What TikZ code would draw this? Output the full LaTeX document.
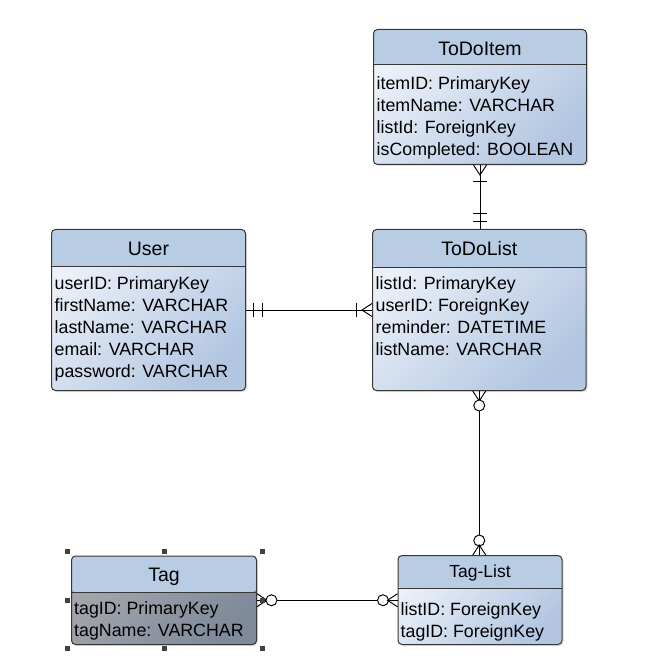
\documentclass[tikz,border=0pt]{standalone}
\usepackage{fontspec}
\setmainfont{Liberation Sans}
\usetikzlibrary{calc, positioning, decorations.markings, shadows}
\definecolor{headblue}{RGB}{184,204,228}
\definecolor{bodylight}{RGB}{236,241,249}
\definecolor{bodyblue}{RGB}{178,198,225}
\definecolor{taglight}{RGB}{166,167,172}
\definecolor{tagdark}{RGB}{126,137,154}
\definecolor{framegray}{RGB}{55,55,55}

\begin{document}
\begin{tikzpicture}[x=1pt, y=1pt,
    entity/.style={draw=framegray, line width=1pt, rounded corners=4pt, anchor=north west, inner sep=0pt,
        top color=bodylight, bottom color=bodyblue, shading angle=45,
        drop shadow={shadow xshift=1.5pt, shadow yshift=-1.5pt, opacity=0.25},
        path picture={
            \fill[headblue] (path picture bounding box.north west) rectangle ([yshift=-#1pt]path picture bounding box.north east);
            \draw[framegray, line width=1pt] ([yshift=-#1pt]path picture bounding box.north west) -- ([yshift=-#1pt]path picture bounding box.north east);
        }},
    tagentity/.style={entity=#1, top color=taglight, bottom color=tagdark, shading angle=45},
    entityname/.style={font=\fontsize{19.5}{23}\selectfont, text height=14pt, text depth=0pt, inner sep=0pt},
    fieldlist/.style={font=\fontsize{17.8}{22}\selectfont, align=left, inner sep=0pt, anchor=north west},
    conn/.style={line width=0.95pt},
    tipline/.style={line width=0.95pt},
    handle/.style={fill=black!75},
    onlyone start/.style={postaction={decorate, decoration={markings,
        mark=at position 7.5pt with {\draw[tipline] (0pt,-7pt) -- (0pt,7pt);},
        mark=at position 16pt with {\draw[tipline] (0pt,-7pt) -- (0pt,7pt);}}}},
    onlyone end/.style={postaction={decorate, decoration={markings,
        mark=at position -16pt with {\draw[tipline] (0pt,-7pt) -- (0pt,7pt);},
        mark=at position -7.5pt with {\draw[tipline] (0pt,-7pt) -- (0pt,7pt);}}}},
    onemany start/.style={postaction={decorate, decoration={markings,
        mark=at position 10pt with {\draw[tipline] (-10pt,-6.5pt) -- (0pt,0pt) -- (-10pt,6.5pt);},
        mark=at position 16pt with {\draw[tipline] (0pt,-7pt) -- (0pt,7pt);}}}},
    onemany end/.style={postaction={decorate, decoration={markings,
        mark=at position -16pt with {\draw[tipline] (0pt,-7pt) -- (0pt,7pt);},
        mark=at position -10pt with {\draw[tipline] (10pt,-6.5pt) -- (0pt,0pt) -- (10pt,6.5pt);}}}},
    zeromany start/.style={postaction={decorate, decoration={markings,
        mark=at position 10pt with {\draw[tipline] (-10pt,-6.5pt) -- (0pt,0pt) -- (-10pt,6.5pt);},
        mark=at position 14.5pt with {\draw[tipline, fill=white] (0pt,0pt) circle (5.5pt);}}}},
    zeromany end/.style={postaction={decorate, decoration={markings,
        mark=at position -14.5pt with {\draw[tipline, fill=white] (0pt,0pt) circle (5.5pt);},
        mark=at position -10pt with {\draw[tipline] (10pt,-6.5pt) -- (0pt,0pt) -- (10pt,6.5pt);}}}}]

    \useasboundingbox (0,0) rectangle (662,-658);

    % ToDoItem
    \node[entity=35, minimum width=213, minimum height=135] (todoitem) at (373,-29) {};
    \node[entityname] (todoitemname) at ($(todoitem.north)+(0,-19.5)$) {ToDoItem};
    \node[fieldlist] (todoitemfields) at ($(todoitem.north west)+(3.5,-47.5)$)
        {itemID: PrimaryKey\\itemName: VARCHAR\\listId: ForeignKey\\isCompleted: BOOLEAN};

    % User
    \node[entity=37, minimum width=194, minimum height=161] (user) at (51,-229) {};
    \node[entityname] (username) at ($(user.north)+(0,-19.5)$) {User};
    \node[fieldlist] (userfields) at ($(user.north west)+(3.5,-47.5)$)
        {userID: PrimaryKey\\firstName: VARCHAR\\lastName: VARCHAR\\email: VARCHAR\\password: VARCHAR};

    % ToDoList
    \node[entity=37.5, minimum width=213.5, minimum height=161] (todolist) at (372,-229) {};
    \node[entityname] (todolistname) at ($(todolist.north)+(0,-19.8)$) {ToDoList};
    \node[fieldlist] (todolistfields) at ($(todolist.north west)+(3.5,-47.5)$)
        {listId: PrimaryKey\\userID: ForeignKey\\reminder: DATETIME\\listName: VARCHAR};

    % Tag (selected)
    \node[tagentity=36, minimum width=185, minimum height=88.5] (tag) at (71,-555.5) {};
    \node[entityname] (tagname) at ($(tag.north)+(0,-18.5)$) {Tag};
    \node[fieldlist] (tagfields) at ($(tag.north west)+(3,-46)$)
        {tagID: PrimaryKey\\tagName: VARCHAR};

    % Tag-List
    \node[entity=33, minimum width=164, minimum height=89] (taglist) at (397.5,-555) {};
    \node[entityname, font=\fontsize{17.5}{21}\selectfont, text height=12.5pt] (taglistname) at ($(taglist.north)+(0,-16.7)$) {Tag-List};
    \node[fieldlist] (taglistfields) at ($(taglist.north west)+(3,-47)$)
        {listID: ForeignKey\\tagID: ForeignKey};

    % relationships
    \draw[conn, onemany start, onlyone end] (todoitem.south) -- (todoitem.south |- todolist.north);
    \draw[conn, onlyone start, onemany end] (user.east) -- (todolist.west);
    \draw[conn, zeromany start, zeromany end] (todolist.south) -- (todolist.south |- taglist.north);
    \draw[conn, zeromany start, zeromany end] (tag.east) -- (tag.east -| taglist.west);

    % selection handles round Tag
    \foreach \a/\dx/\dy in {north west/-4/4.5, north/0/4.5, north east/5/4.5, west/-4/0, east/5/0,
                            south west/-4/-3.5, south/0/-3.5, south east/5/-3.5}
        \fill[handle] ([shift={(\dx,\dy)}]tag.\a) +(-2.5,-2.5) rectangle +(2.5,2.5);
\end{tikzpicture}
\end{document}
